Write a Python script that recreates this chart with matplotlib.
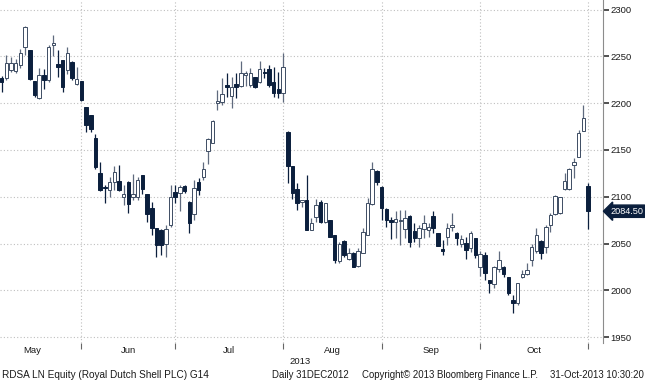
import matplotlib
matplotlib.use('Agg')
import matplotlib.pyplot as plt
import matplotlib.transforms as mtransforms

# ---------------- data (daily OHLC, RDSA LN, May-Oct 2013) ----------------
opens = [2227.2, 2226.5, 2235.3, 2234.3, 2240.7, 2260.3, 2256.7, 2223.6, 2205, 2230,
         2224.7, 2262.4, 2241.4, 2246, 2235.3, 2244, 2220.4, 2223.6,
         2195.5, 2187.3, 2163, 2125, 2109.5, 2107, 2116, 2117, 2099.4, 2116,
         2100, 2100, 2123.2, 2102.6, 2087.6, 2066.3, 2064.5, 2050, 2069.8, 2105,
         2104, 2111.5, 2094.7, 2081.6, 2116, 2120.7, 2149.2, 2157.8, 2200.5, 2201.5,
         2219.4, 2207.6, 2220, 2218.3, 2230.5, 2219.4, 2227.5, 2223, 2233.6, 2236,
         2222.9, 2214.7, 2210.4,
         2169.5, 2132.8, 2107.9, 2094, 2096.5, 2064.5, 2078.7, 2094.7, 2073.4, 2075.1,
         2059.1, 2031.3, 2053, 2033.1, 2039.6, 2026, 2040.3, 2059.1, 2092.2, 2127.5, 2110.8,
         2086.6, 2074.3, 2072.7, 2073.8, 2065.2, 2079.4, 2063.8, 2055.6, 2065.2, 2064.5,
         2079.4, 2060.9, 2043.8, 2057.4, 2067.5, 2061.6, 2049.8, 2051, 2045, 2055.6, 2024.4,
         2037.7, 2011, 2007, 2022.4, 2025.3, 2014, 1989.2, 1986.2, 2014.6, 2017.5,
         2032.2, 2042.4, 2053, 2046, 2069.8, 2081.6, 2082.3, 2108.3, 2108, 2133.9,
         2142.8, 2170.6, 2111.8]
highs = [2229, 2251, 2249, 2247, 2258, 2282, 2257, 2224, 2237, 2236,
         2262, 2273, 2256.7, 2246.5, 2260, 2244.5, 2239, 2224,
         2196, 2187.5, 2166.6, 2137.5, 2112, 2121, 2133, 2134, 2112.5, 2116.5,
         2124, 2121, 2123.5, 2103, 2094.7, 2066.5, 2066, 2070, 2112.5, 2112.5,
         2112, 2112, 2095, 2118, 2120, 2137.5, 2163, 2182, 2214, 2227,
         2232, 2228, 2232, 2245.3, 2234, 2237, 2228, 2245.3, 2237, 2240.7,
         2239, 2233.6, 2253.9,
         2170, 2133, 2114.3, 2096.5, 2123, 2077, 2098, 2096.5, 2093.5, 2075.5,
         2059.5, 2052, 2053.8, 2045, 2041.3, 2045, 2066.3, 2098.3, 2137.5, 2128, 2111,
         2087.6, 2078.7, 2085, 2085.8, 2085.8, 2080, 2071.6, 2069.8, 2080, 2071.6,
         2084.5, 2061.5, 2054, 2072, 2083, 2062, 2059, 2057, 2063.8, 2056, 2042.5,
         2041, 2011.5, 2025.8, 2042, 2025.8, 2014.5, 1995.5, 2008.2, 2021.8, 2029.6,
         2049.5, 2066.3, 2053.5, 2069.8, 2083, 2101.9, 2100, 2125.7, 2130.3, 2141,
         2171.3, 2198, 2114.3]
lows = [2212, 2225, 2233.5, 2232, 2237, 2251.4, 2224.6, 2207, 2204, 2215,
        2223, 2250, 2228, 2212, 2231, 2224.6, 2219, 2202.6,
        2169.5, 2169.5, 2130, 2106, 2093, 2100, 2107, 2106, 2091, 2083,
        2096, 2096, 2103, 2073.4, 2059, 2036, 2037.8, 2036, 2068, 2093,
        2085, 2104, 2061, 2075, 2101.9, 2118, 2135, 2157, 2192.7, 2198,
        2207, 2194.5, 2205, 2217.6, 2218, 2217.6, 2215.8, 2221, 2226.5, 2217.6,
        2207, 2205.1, 2201.5,
        2114.3, 2098, 2085.8, 2089, 2064.5, 2064, 2073.4, 2071.6, 2071.6, 2057,
        2029.6, 2029.6, 2036, 2032.4, 2025, 2025.3, 2039.6, 2059, 2091.2, 2112.5, 2075.1,
        2068, 2054.5, 2055.6, 2048.5, 2055.6, 2046.7, 2052, 2046.7, 2056, 2057.4,
        2061.5, 2047, 2037.8, 2048.5, 2063, 2048.5, 2046.7, 2033.1, 2041.3, 2035, 2015,
        2011, 1997.6, 2002, 2020, 2014, 1995.5, 1975.5, 1984.4, 2012.9, 2016.4,
        2026, 2039.6, 2033.1, 2039.6, 2062.7, 2080.5, 2081.6, 2107.2, 2107.2, 2119.7,
        2142.8, 2170.6, 2065.2]
closes = [2222.2, 2242.5, 2242.5, 2242.5, 2253.9, 2281.6, 2225.7, 2208.6, 2230, 2225,
          2260.3, 2264, 2239, 2216.8, 2253.9, 2226.5, 2225.4, 2203.3,
          2176.6, 2172, 2131.4, 2107, 2109, 2116, 2126.8, 2107, 2102.6, 2092.2,
          2103, 2117.9, 2107.9, 2081.6, 2066.3, 2048.5, 2048.5, 2065, 2100, 2100,
          2110, 2106.5, 2072.3, 2109, 2107.2, 2129.3, 2161.3, 2180.9, 2202.3, 2209.4,
          2217.6, 2216.9, 2217.6, 2231.8, 2231.8, 2231.8, 2217.6, 2236, 2231.8, 2219.4,
          2210.4, 2211.2, 2238.2,
          2132.8, 2104.3, 2093.7, 2096.5, 2064.5, 2072.3, 2091.2, 2073.4, 2093, 2057.4,
          2032.4, 2049.5, 2037.8, 2039.6, 2025.3, 2042, 2062.7, 2093, 2129.3, 2116, 2087.6,
          2075.2, 2073.4, 2075.9, 2074.5, 2077, 2052, 2055.6, 2066.3, 2072.3, 2067.3,
          2066.3, 2047.4, 2042.5, 2066.3, 2069.5, 2055.6, 2054.8, 2043.5, 2061.6, 2037.8, 2038.8,
          2018.1, 2008.2, 2025.3, 2032.4, 2017.8, 1997.6, 1986.5, 2007.5, 2017.1, 2021.8,
          2046, 2059.1, 2039.6, 2068, 2080.5, 2100.8, 2099.4, 2116.8, 2129.3, 2137.5,
          2168.4, 2183.7, 2084.5]

month_labels = ['May', 'Jun', 'Jul', 'Aug', 'Sep', 'Oct']
month_bounds = [-4, 17, 37, 60, 81, 102, 125]   # index of last candle of each month
yticks = [1950, 2000, 2050, 2100, 2150, 2200, 2250, 2300]
last_price = 2084.50
footer_left = 'RDSA LN Equity (Royal Dutch Shell PLC) G14'
footer_mid1 = 'Daily 31DEC2012'
footer_mid2 = 'Copyright\u00a9 2013 Bloomberg Finance L.P.'
footer_right = '31-Oct-2013 10:30:20'
year_label = '2013'

# ---------------- style ----------------
plt.rcParams['font.family'] = ['Liberation Sans', 'DejaVu Sans']
DARK = '#0b1f3d'
EDGE_UP = '#3d4c63'
WICK_UP = '#5f6a7e'
TXT = '#1a1a1a'

W, H = 645, 380
fig = plt.figure(figsize=(W / 100, H / 100), dpi=100)
ax = fig.add_axes([0, 37 / H, 603 / W, 343 / H])

n = len(opens)
xs = list(range(n))
body_w = 0.74
for i in xs:
    o, h, l, c = opens[i], highs[i], lows[i], closes[i]
    up = c >= o
    wc = WICK_UP if up else DARK
    ax.vlines(i, l, h, color=wc, linewidth=0.9, zorder=3)
    bottom = min(o, c)
    height = max(abs(c - o), 1.2)
    if up:
        ax.bar(i, height, bottom=bottom, width=body_w, color='white',
               edgecolor=EDGE_UP, linewidth=0.7, zorder=4)
    else:
        ax.bar(i, height, bottom=bottom, width=body_w, color=DARK,
               edgecolor=DARK, linewidth=0.7, zorder=4)

ax.set_xlim(-0.36, 128.2)
ax.set_ylim(1943.7, 2310.15)

# grid
for yv in yticks:
    ax.axhline(yv, color='#bfbfbf', linewidth=0.8, linestyle=(0, (1, 2)), zorder=1)
for b in month_bounds[1:]:
    ax.axvline(b, color='#bfbfbf', linewidth=0.8, linestyle=(0, (1, 2)), zorder=1)

# axes
for s in ['top', 'left', 'bottom']:
    ax.spines[s].set_visible(False)
ax.spines['right'].set_color('#8c8c8c')
ax.spines['right'].set_linewidth(0.8)

ax.yaxis.tick_right()
ax.set_yticks(yticks)
ax.set_yticklabels([str(v) for v in yticks])
ax.tick_params(axis='y', direction='out', length=4, width=1.2, color='#333333',
               labelsize=6.8, pad=1.5, labelcolor=TXT)

ax.set_xticks(month_bounds[1:])
ax.set_xticklabels([''] * (len(month_bounds) - 1))
mids = [(month_bounds[k] + month_bounds[k + 1]) / 2 for k in range(len(month_labels))]
ax.set_xticks(mids, minor=True)
ax.set_xticklabels(month_labels, minor=True)
ax.tick_params(axis='x', which='major', direction='out', length=4, width=0.8,
               color='#666666')
ax.tick_params(axis='x', which='minor', length=0, labelsize=6.8, pad=2.5,
               labelcolor=TXT)

# year label
fig.text(300 / W, 1 - 362 / H, year_label, ha='center', va='center',
         fontsize=6.8, color=TXT)

# last price tag
trans = mtransforms.blended_transform_factory(fig.transFigure, ax.transData)
ax.text(610 / W, last_price, f'{last_price:.2f}', transform=trans, ha='left',
        va='center', fontsize=6.6, color='white', zorder=10, clip_on=False,
        bbox=dict(boxstyle='larrow,pad=0.18', fc=DARK, ec=DARK))

# footer
fy = 1 - 375 / H
fs = 6.9
fig.text(2 / W, fy, footer_left, ha='left', va='center', fontsize=7.2, color=TXT)
fig.text(272 / W, fy, footer_mid1, ha='left', va='center', fontsize=fs, color=TXT)
fig.text(362 / W, fy, footer_mid2, ha='left', va='center', fontsize=fs, color=TXT)
fig.text(644 / W, fy, footer_right, ha='right', va='center', fontsize=fs, color=TXT)

fig.savefig('out.png', dpi=100, facecolor='white')
